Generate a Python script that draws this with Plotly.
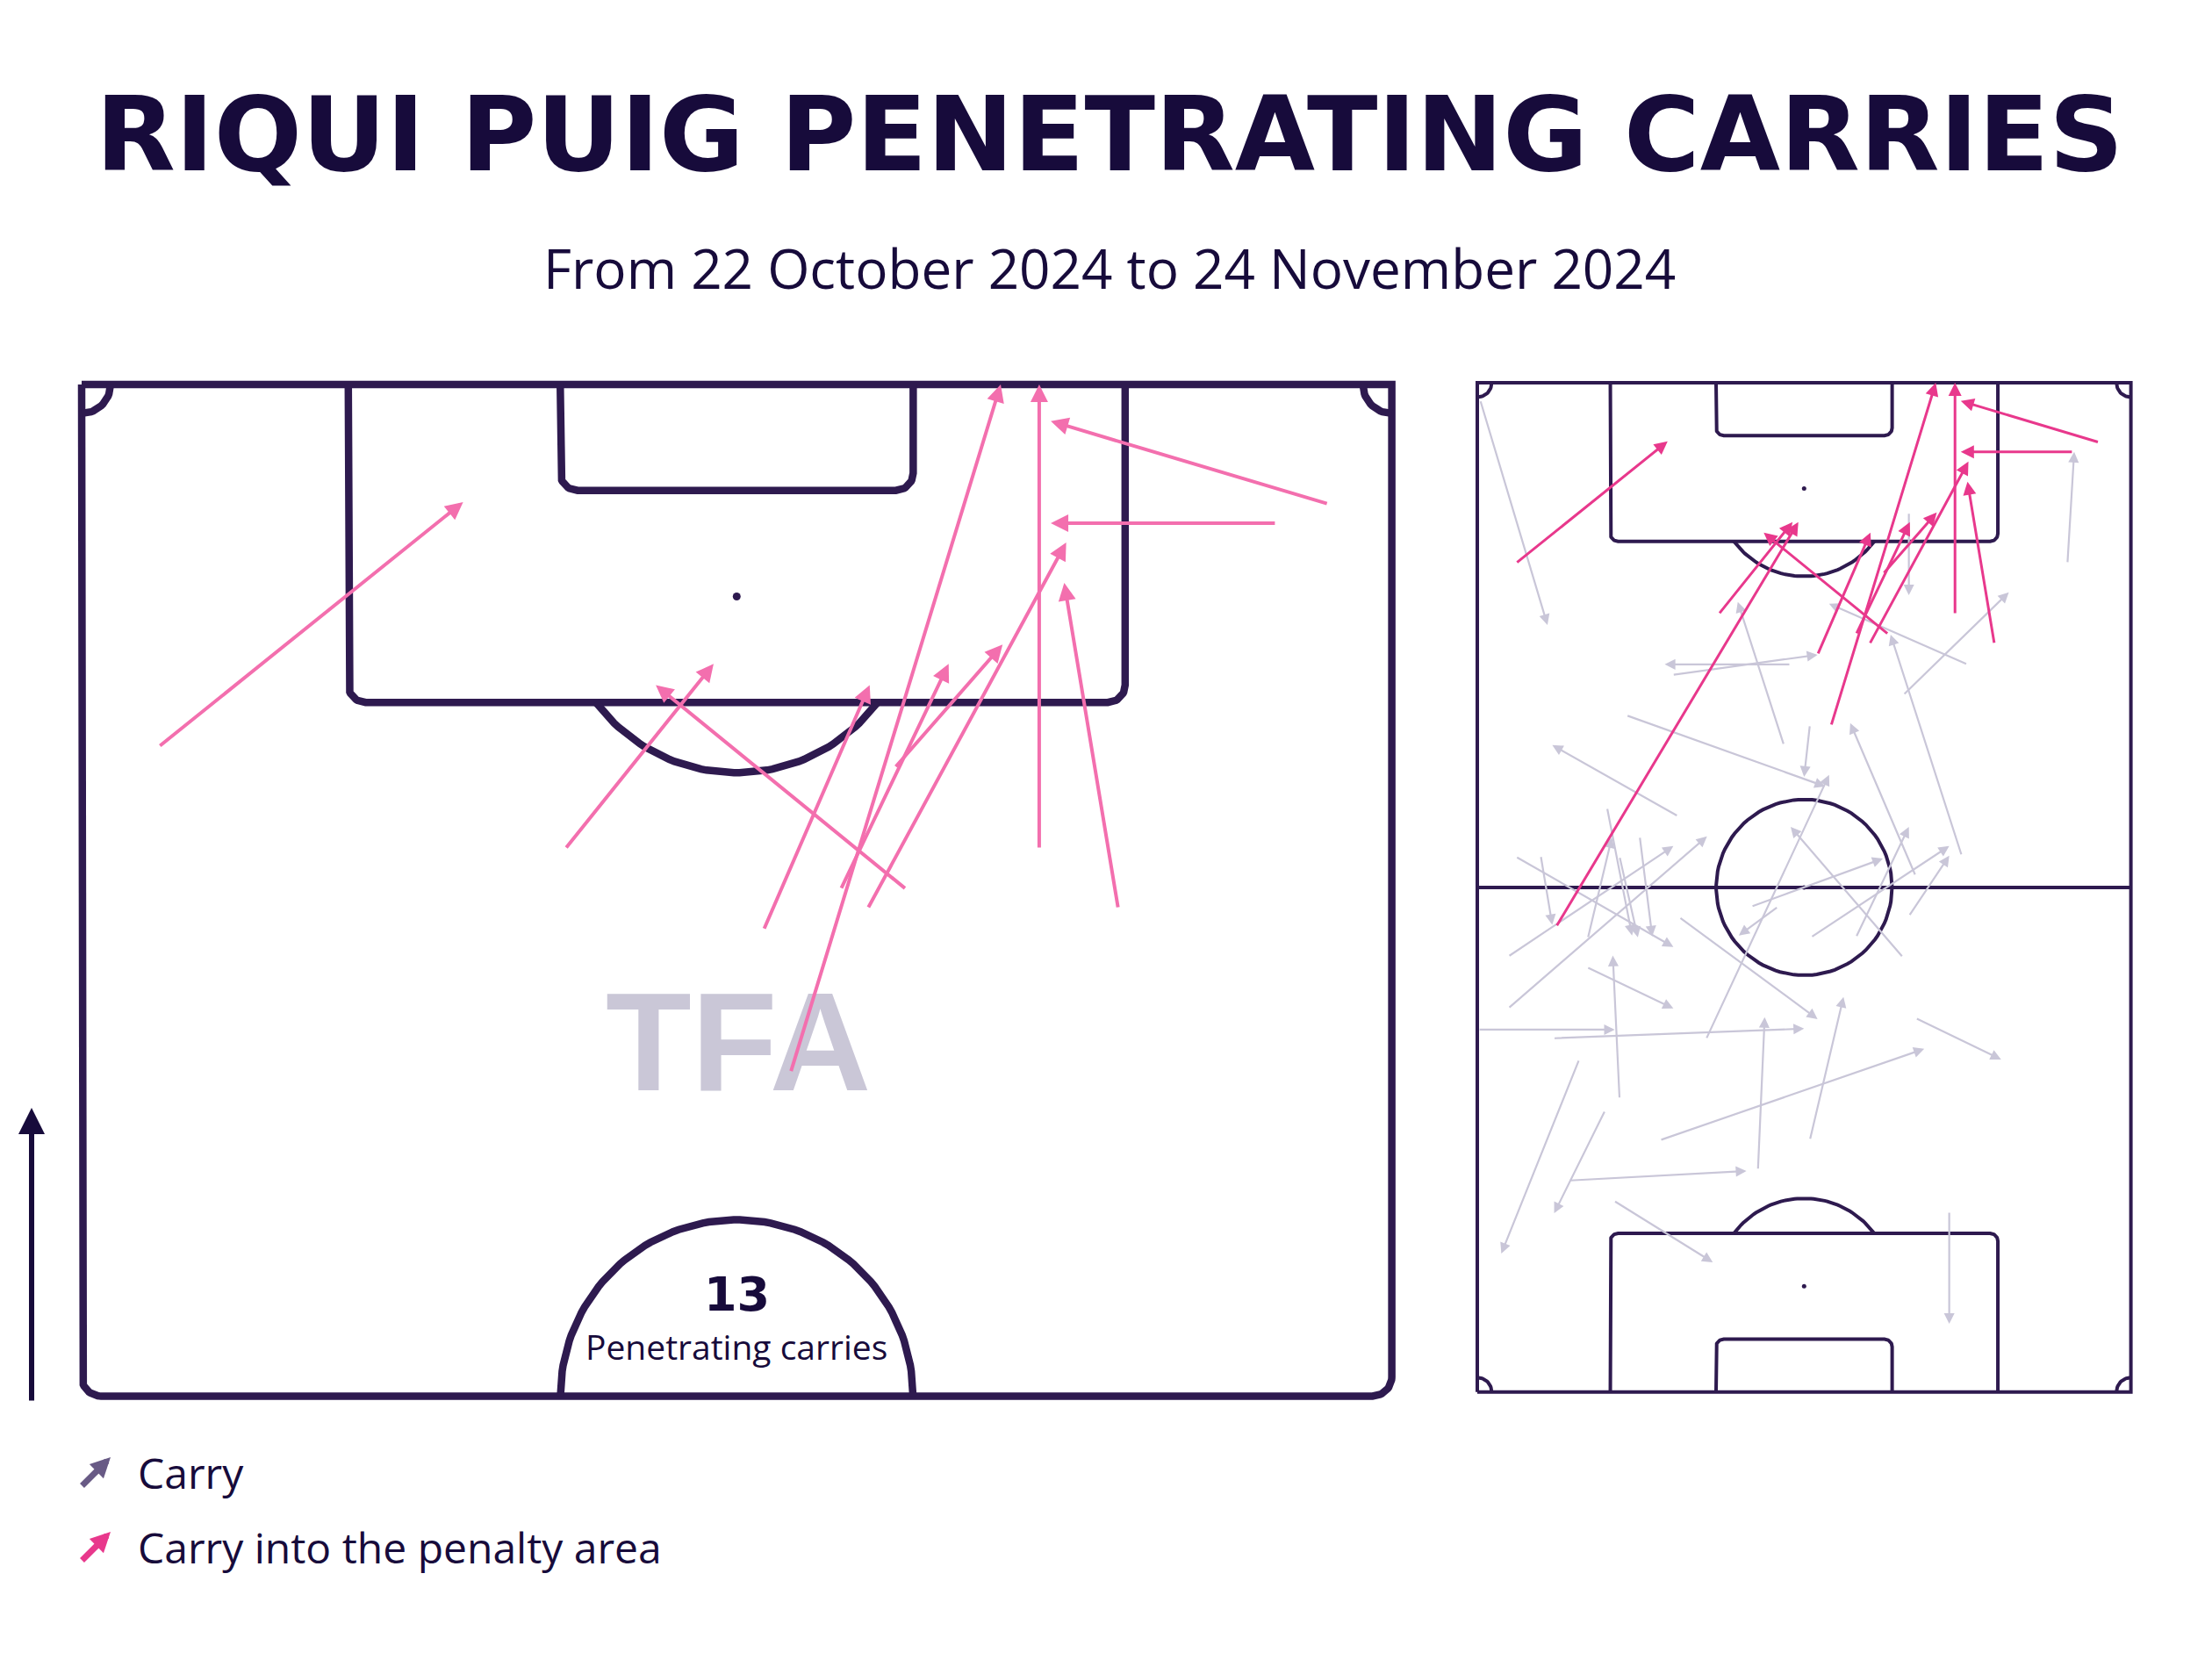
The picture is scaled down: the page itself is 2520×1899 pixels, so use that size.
import numpy as np
import plotly.graph_objects as go

W, H = 2520, 1899

# ---------------- data (pitch metres: x 0-68 across, y 0-105 towards opponent goal) -------------
# carries into the penalty area
pen_x0 = [4.0, 25.1, 42.8, 35.4, 36.8, 39.4, 42.2, 40.8, 49.7, 53.8, 64.7, 62.0, 8.2]
pen_y0 = [86.2, 80.9, 78.8, 76.7, 69.3, 78.8, 85.1, 77.8, 80.9, 77.8, 98.8, 97.8, 48.4]
pen_x1 = [19.8, 32.8, 29.8, 40.9, 47.7, 45.0, 47.8, 51.1, 49.7, 51.0, 50.3, 50.3, 33.4]
pen_y1 = [98.9, 90.5, 89.4, 89.4, 105.0, 90.5, 91.5, 96.8, 105.0, 94.7, 103.1, 97.8, 90.5]

# other carries
car_x0 = [0.3, 61.4, 44.9, 51.0, 44.3, 50.4, 31.9, 32.6, 20.3, 15.5, 20.9, 34.6, 45.6, 23.8,
          44.3, 28.5, 31.3, 34.7, 39.4, 44.9, 4.0, 6.6, 3.2, 3.2, 13.5, 11.5, 14.8, 16.9,
          11.4, 14.8, 0.1, 7.9, 21.0, 10.6, 13.3, 9.5, 29.2, 34.6, 19.0, 45.6, 14.2, 49.1]
car_y0 = [103.2, 86.2, 91.5, 75.7, 72.5, 55.8, 67.3, 75.7, 74.6, 70.4, 59.9, 69.4, 53.7, 36.7,
          45.2, 50.5, 50.5, 47.3, 47.3, 49.5, 55.7, 55.8, 45.3, 39.9, 60.8, 47.2, 55.7, 57.8,
          44.2, 30.5, 37.7, 36.8, 49.4, 34.6, 29.3, 22.0, 23.1, 26.2, 26.2, 38.9, 19.9, 18.8]
car_x1 = [7.3, 62.1, 44.9, 36.6, 55.3, 43.0, 27.1, 19.5, 35.4, 36.2, 7.8, 34.0, 38.8, 36.6,
          32.6, 42.2, 27.2, 49.1, 44.9, 49.1, 20.4, 7.8, 20.4, 23.9, 16.1, 14.0, 16.7, 18.2,
          20.4, 14.1, 14.3, 34.0, 35.4, 2.5, 8.0, 28.0, 29.9, 38.1, 46.5, 54.5, 24.5, 49.1]
car_y1 = [79.8, 97.8, 82.9, 82.0, 83.2, 78.8, 82.2, 75.7, 76.7, 63.0, 67.3, 64.0, 69.6, 64.2,
          58.8, 55.5, 47.5, 56.8, 58.8, 55.8, 46.3, 48.6, 56.8, 57.8, 47.5, 57.7, 47.3, 47.4,
          39.9, 45.4, 37.7, 37.8, 38.8, 14.4, 18.6, 23.0, 39.0, 41.1, 35.7, 34.6, 13.5, 7.1]

TITLE = "RIQUI PUIG PENETRATING CARRIES"
SUBTITLE = "From 22 October 2024 to 24 November 2024"
COUNT_LABEL = "Penetrating carries"
LEGEND_LABELS = ["Carry", "Carry into the penalty area"]

# ---------------- styles ----------------
LINE = "#2e1a4f"
DARK = "#170b3b"
GREY = "#c9c6d8"
PINK_R = "#e8388c"
PINK_L = "#f36fae"
LEG_GREY = "#685a85"

L, B = 68.0, 105.0


def arc(cx, cy, r, a0, a1, n=60):
    t = np.radians(np.linspace(a0, a1, n))
    return list(cx + r * np.cos(t)), list(cy + r * np.sin(t))


def box(x0, x1, goal, depth, d, r):
    """box open on the goal line; d=-1 for the top goal, +1 for the bottom goal"""
    yin = goal + d * depth
    xs, ys = [x0], [goal]
    a, b = arc(x0 + r, yin - d * r, r, 180, 180 - d * 90, 20)
    xs += a; ys += b
    a, b = arc(x1 - r, yin - d * r, r, 180 - d * 90, 180 - d * 180, 20)
    xs += a; ys += b
    xs += [x1]; ys += [goal]
    return xs, ys


def add_line(fig, xs, ys, width, xa, ya):
    fig.add_trace(go.Scatter(x=xs, y=ys, mode="lines", line=dict(color=LINE, width=width),
                             hoverinfo="skip", showlegend=False, xaxis=xa, yaxis=ya))


fig = go.Figure()

# ---------------- left half pitch ----------------
lw = 8.5
xa, ya = "x", "y"
xs, ys = box(0, L, B, 52.5, -1, 1.0)
xs += [0]; ys += [B]
add_line(fig, xs, ys, lw, xa, ya)
add_line(fig, *box(13.84, 54.16, B, 16.5, -1, 0.9), lw, xa, ya)
add_line(fig, *box(24.84, 43.16, B, 5.5, -1, 0.9), lw, xa, ya)
ang = np.degrees(np.arcsin((88.5 - 94) / 9.15))
add_line(fig, *arc(34, 94, 9.15, 180 - ang, 360 + ang), lw, xa, ya)
add_line(fig, *arc(34, 52.5, 9.15, 0, 180, 90), lw, xa, ya)
add_line(fig, *arc(0, B, 1.5, -90, 0, 20), lw, xa, ya)
add_line(fig, *arc(L, B, 1.5, 180, 270, 20), lw, xa, ya)
fig.add_trace(go.Scatter(x=[34], y=[94], mode="markers", marker=dict(color=LINE, size=9),
                         hoverinfo="skip", showlegend=False, xaxis=xa, yaxis=ya))

# ---------------- right full pitch ----------------
lw2 = 4
xa, ya = "x2", "y2"
add_line(fig, [0, L, L, 0, 0], [0, 0, B, B, 0], lw2, xa, ya)
add_line(fig, [0, L], [52.5, 52.5], lw2, xa, ya)
add_line(fig, *arc(34, 52.5, 9.15, 0, 360, 120), lw2, xa, ya)
add_line(fig, *box(13.84, 54.16, B, 16.5, -1, 0.8), lw2, xa, ya)
add_line(fig, *box(24.84, 43.16, B, 5.5, -1, 0.8), lw2, xa, ya)
add_line(fig, *box(13.84, 54.16, 0, 16.5, 1, 0.8), lw2, xa, ya)
add_line(fig, *box(24.84, 43.16, 0, 5.5, 1, 0.8), lw2, xa, ya)
add_line(fig, *arc(34, 94, 9.15, 180 - ang, 360 + ang), lw2, xa, ya)
add_line(fig, *arc(34, 11, 9.15, -ang, 180 + ang), lw2, xa, ya)
add_line(fig, *arc(0, B, 1.5, -90, 0, 20), lw2, xa, ya)
add_line(fig, *arc(L, B, 1.5, 180, 270, 20), lw2, xa, ya)
add_line(fig, *arc(0, 0, 1.5, 0, 90, 20), lw2, xa, ya)
add_line(fig, *arc(L, 0, 1.5, 90, 180, 20), lw2, xa, ya)
fig.add_trace(go.Scatter(x=[34, 34, 34], y=[94, 52.5, 11], mode="markers",
                         marker=dict(color=LINE, size=5), hoverinfo="skip", showlegend=False,
                         xaxis=xa, yaxis=ya))

annotations = []

# watermark
annotations.append(dict(x=34.1, y=70.9, xref="x", yref="y", text="TFA", showarrow=False,
                        xanchor="center", yanchor="middle",
                        font=dict(family="Liberation Sans", size=160, color="#cac7d7", weight="bold")))


def carry(x0, y0, x1, y1, ref, color, width, size):
    return dict(x=x1, y=y1, ax=x0, ay=y0, xref="x" + ref, yref="y" + ref,
                axref="x" + ref, ayref="y" + ref, text="", showarrow=True,
                arrowhead=2, arrowsize=size, arrowwidth=width, arrowcolor=color, standoff=0)


# right pitch: all carries
for a, b, c, d in zip(car_x0, car_y0, car_x1, car_y1):
    annotations.append(carry(a, b, c, d, "2", GREY, 2.2, 1.1))
for a, b, c, d in zip(pen_x0, pen_y0, pen_x1, pen_y1):
    annotations.append(carry(a, b, c, d, "2", PINK_R, 3, 1.0))
# left pitch: penetrating carries starting in the opponent half
for a, b, c, d in zip(pen_x0, pen_y0, pen_x1, pen_y1):
    if b >= 52.5:
        annotations.append(carry(a, b, c, d, "", PINK_L, 4, 1.0))

# count in centre circle
annotations.append(dict(x=34, y=57.8, xref="x", yref="y", text=str(len(pen_x0)), showarrow=False,
                        xanchor="center", yanchor="middle",
                        font=dict(family="DejaVu Sans", size=54, color=DARK, weight="bold")))
annotations.append(dict(x=34, y=55.1, xref="x", yref="y", text=COUNT_LABEL, showarrow=False,
                        xanchor="center", yanchor="middle",
                        font=dict(family="Open Sans", size=39, color=DARK)))


def px(x):
    return x / W


def py(y):
    return 1 - y / H


# title / subtitle
annotations.append(dict(x=px(1264), y=py(153), xref="paper", yref="paper", text=TITLE,
                        showarrow=False, xanchor="center", yanchor="middle",
                        font=dict(family="DejaVu Sans", size=118, color=DARK, weight="bold")))
annotations.append(dict(x=px(1264), y=py(305), xref="paper", yref="paper", text=SUBTITLE,
                        showarrow=False, xanchor="center", yanchor="middle",
                        font=dict(family="Open Sans", size=62, color=DARK)))

# direction arrow
annotations.append(dict(x=px(36), y=py(1262), xref="paper", yref="paper", ax=0, ay=335,
                        axref="pixel", ayref="pixel", text="", showarrow=True, arrowhead=2,
                        arrowsize=1.0, arrowwidth=6, arrowcolor=DARK, standoff=0))

# legend
for i, (lab, col) in enumerate(zip(LEGEND_LABELS, [LEG_GREY, PINK_R])):
    yc = 1677 + i * 85
    annotations.append(dict(x=px(126), y=py(yc - 17), xref="paper", yref="paper", ax=-34, ay=34,
                            axref="pixel", ayref="pixel", text="", showarrow=True, arrowhead=2,
                            arrowsize=0.65, arrowwidth=7, arrowcolor=col, standoff=0))
    annotations.append(dict(x=px(155), y=py(yc), xref="paper", yref="paper", text=lab,
                            showarrow=False, xanchor="left", yanchor="middle",
                            font=dict(family="Open Sans", size=48, color=DARK)))

# ---------------- axes placement (equal metres-to-pixels scaling) ----------------
s1, x0p1, ytop1 = 21.95, 93.0, 438.0
s2, x0p2, ytop2 = 10.95, 1683.0, 436.0
pad = 1.5


def dom_x(x0p, s, lo, hi):
    return [(x0p + lo * s) / W, (x0p + hi * s) / W]


def dom_y(ytop, s, lo, hi, top):
    return [1 - (ytop + (top - lo) * s) / H, 1 - (ytop + (top - hi) * s) / H]


ax_common = dict(visible=False, showgrid=False, zeroline=False, fixedrange=True)
fig.update_layout(
    width=W, height=H, autosize=False,
    margin=dict(l=0, r=0, t=0, b=0),
    paper_bgcolor="white", plot_bgcolor="white",
    showlegend=False,
    xaxis=dict(range=[-pad, L + pad], domain=dom_x(x0p1, s1, -pad, L + pad), anchor="y", **ax_common),
    yaxis=dict(range=[52.5 - pad, B + pad], domain=dom_y(ytop1, s1, 52.5 - pad, B + pad, B),
               anchor="x", **ax_common),
    xaxis2=dict(range=[-pad, L + pad], domain=dom_x(x0p2, s2, -pad, L + pad), anchor="y2", **ax_common),
    yaxis2=dict(range=[-pad, B + pad], domain=dom_y(ytop2, s2, -pad, B + pad, B),
                anchor="x2", **ax_common),
    annotations=annotations,
)

fig.write_html("out.html", config={"displayModeBar": False},
               post_script="document.body.style.margin='0';document.body.style.overflow='hidden';")
